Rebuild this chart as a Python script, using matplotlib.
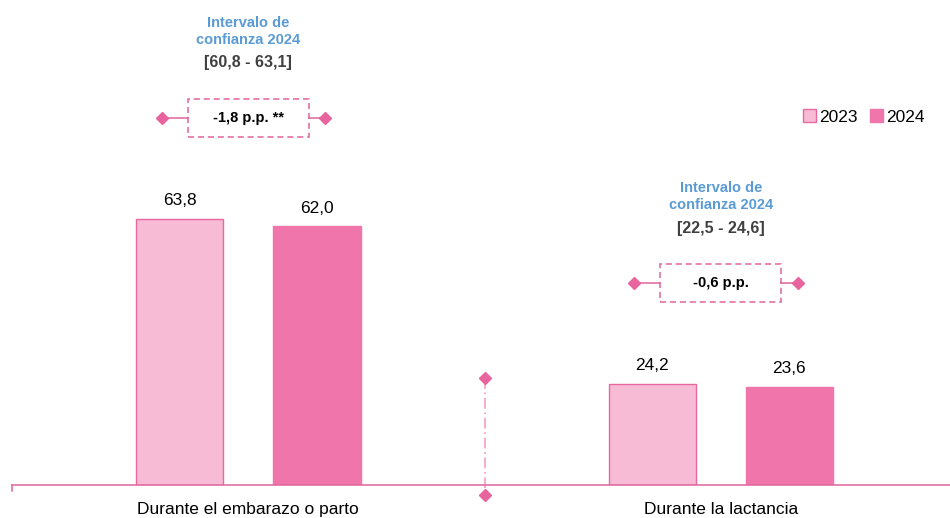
import matplotlib.pyplot as plt
from matplotlib.patches import Rectangle
import numpy as np

plt.rcParams['font.family'] = ['Liberation Sans', 'DejaVu Sans']

categories = ['Durante el embarazo o parto', 'Durante la lactancia']
years = ['2023', '2024']
v2023 = [63.8, 24.2]
v2024 = [62.0, 23.6]
diff_labels = ['-1,8 p.p. **', '-0,6 p.p.']
ci_labels = ['[60,8 - 63,1]', '[22,5 - 24,6]']

C23 = '#F8BBD6'
C24 = '#F075AA'
EDGE = '#E8679F'
AXC = '#E0659D'
BLUE = '#5B9BD5'

fig = plt.figure(figsize=(9.5, 5.18), dpi=100)
ax = fig.add_axes([12 / 950, 33 / 518, 938 / 950, 485 / 518])

x = np.arange(len(categories))
w = 0.185
off = 0.145
b1 = ax.bar(x - off, v2023, w, color=C23, edgecolor=EDGE, linewidth=1, label=years[0])
b2 = ax.bar(x + off, v2024, w, color=C24, edgecolor=C24, linewidth=1, label=years[1])

for xi, v in zip(x - off, v2023):
    ax.text(xi, v + 2.6, f'{v:.1f}'.replace('.', ','), ha='center', va='bottom', fontsize=12.5)
for xi, v in zip(x + off, v2024):
    ax.text(xi, v + 2.6, f'{v:.1f}'.replace('.', ','), ha='center', va='bottom', fontsize=12.5)

ax.set_xlim(-0.5, 1.485)
ax.set_ylim(0, 116.3)

# annotations above each group
for i in range(len(categories)):
    top = max(v2023[i], v2024[i])
    ax.text(x[i], top + 44.9, 'Intervalo de\nconfianza 2024', ha='center', va='center',
            fontsize=10.5, fontweight='bold', color=BLUE, linespacing=1.3)
    ax.text(x[i], top + 37.4, ci_labels[i], ha='center', va='center',
            fontsize=11.5, fontweight='bold', color='#404040')
    yb = top + 24.2
    bw, bh = 0.256, 9.1
    ax.add_patch(Rectangle((x[i] - bw / 2, yb - bh / 2), bw, bh, fill=False,
                           edgecolor=AXC, linestyle=(0, (4, 2.5)), linewidth=1.1,
                           clip_on=False))
    ax.text(x[i], yb, diff_labels[i], ha='center', va='center', fontsize=10.5,
            fontweight='bold', color='black')
    ax.plot([x[i] - 0.183, x[i] - bw / 2], [yb, yb], color=AXC, lw=1.1)
    ax.plot([x[i] + bw / 2, x[i] + 0.163], [yb, yb], color=AXC, lw=1.1)
    ax.plot([x[i] - 0.183, x[i] + 0.163], [yb, yb], linestyle='none', marker='D',
            markersize=6, color='#E8649E')

# divider between groups
ax.plot([0.5, 0.5], [25.7, -2.4], color='#F4A6C8', lw=1.3,
        linestyle=(0, (6, 2, 1, 2)), clip_on=False)
ax.plot([0.5, 0.5], [25.7, -2.4], linestyle='none', marker='D', markersize=6,
        color='#E8649E', clip_on=False)

for s in ['top', 'right', 'left']:
    ax.spines[s].set_visible(False)
ax.spines['bottom'].set_color(AXC)
ax.spines['bottom'].set_linewidth(1.1)
ax.plot([-0.5, -0.5], [0, -1.4], color=AXC, lw=1.1, clip_on=False)
ax.set_yticks([])
ax.set_xticks(x)
ax.set_xticklabels(categories, fontsize=12.5)
ax.tick_params(axis='x', length=0, pad=12)

leg = ax.legend(handles=[b1, b2], loc='center left', bbox_to_anchor=(794 / 950, 1 - 117 / 518),
                bbox_transform=fig.transFigure, ncol=2, frameon=False, fontsize=12.5,
                handlelength=0.75, handleheight=0.75, handletextpad=0.2, columnspacing=0.7,
                borderpad=0)

fig.savefig('out.png', dpi=100)
